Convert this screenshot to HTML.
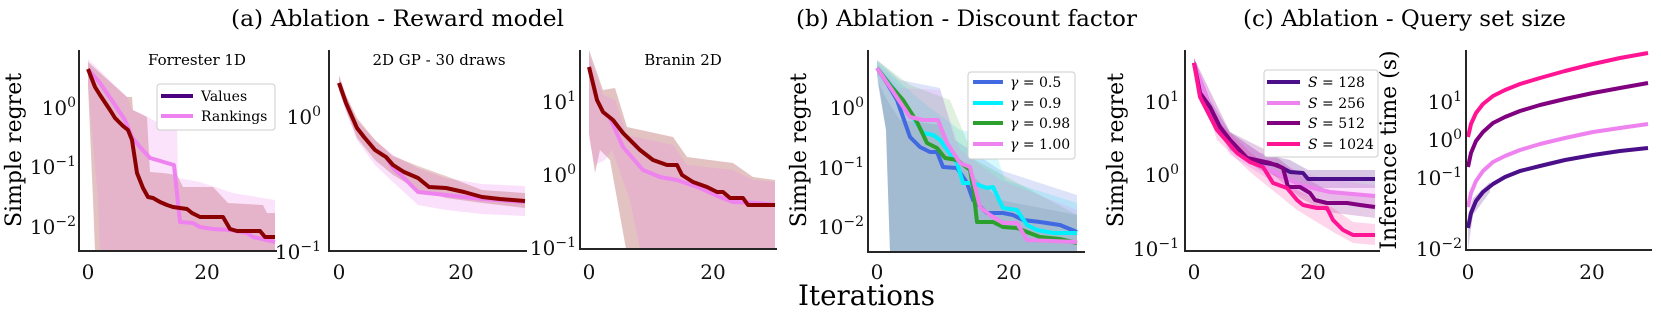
<!DOCTYPE html>
<html><head><meta charset="utf-8"><style>
html,body{margin:0;padding:0;background:#fff;}
svg{display:block;font-family:"DejaVu Serif","Liberation Serif",serif;}
.t{font-size:20px;fill:#111;}
.ax{stroke:#262626;stroke-width:2;fill:none;}
.ln{fill:none;stroke-width:4;stroke-linejoin:round;}
</style></head><body>
<svg width="1661" height="318" viewBox="0 0 1661 318" xmlns="http://www.w3.org/2000/svg">
<text x="231" y="26" font-size="22" textLength="333" lengthAdjust="spacingAndGlyphs">(a) Ablation - Reward model</text>
<text x="796" y="26" font-size="22" textLength="341" lengthAdjust="spacingAndGlyphs">(b) Ablation - Discount factor</text>
<text x="1243" y="26" font-size="22" textLength="323" lengthAdjust="spacingAndGlyphs">(c) Ablation - Query set size</text>
<text x="798" y="305" font-size="28" textLength="137" lengthAdjust="spacingAndGlyphs">Iterations</text>

<!-- Panel 1 -->
<polygon fill="rgba(139,0,0,0.24)" points="88,62 127,97 132,97 133,110 147,117 150,172 163,173 177,175 183,187 213,187 228,203 263,205 267,213 275,213 275,251 95,251 93,200 88,85"/>
<polygon fill="rgba(238,130,238,0.22)" points="88,59 127,97 132,110 140,113 157,122 177,123 178,178 200,182 233,193 275,200 275,251 100,251 98,200 88,85"/>
<polyline class="ln" stroke="#ee82ee" points="88,69 100,83 113,102 125,120 132,137 140,147 150,158 157,160 167,163 174,165 180,222 193,223 200,227 213,229 230,230 247,233 253,237 275,242"/>
<polyline class="ln" stroke="#8b0000" points="88,69 95,87 100,95 110,110 115,118 123,126 128,130 132,140 137,173 143,188 148,197 153,198 160,202 167,205 173,207 180,208 187,209 192,213 200,217 223,217 230,229 237,231 260,231 265,237 275,237"/>
<polyline class="ax" points="79,50 79,251 277,251"/>
<text x="197" y="65" font-size="15" text-anchor="middle">Forrester 1D</text>
<rect x="157" y="84" width="118" height="46" rx="3" fill="#fff" stroke="#ccc" stroke-width="1"/>
<line x1="161" y1="96" x2="193" y2="96" stroke="#4b0082" stroke-width="4"/>
<text x="201" y="101" font-size="14">Values</text>
<line x1="161" y1="116" x2="193" y2="116" stroke="#ee82ee" stroke-width="4"/>
<text x="201" y="121" font-size="14">Rankings</text>
<text class="t" x="76" y="115" text-anchor="end">10<tspan dy="-8" font-size="14">0</tspan></text>
<text class="t" x="76" y="174" text-anchor="end">10<tspan dy="-8" font-size="14">−1</tspan></text>
<text class="t" x="76" y="234" text-anchor="end">10<tspan dy="-8" font-size="14">−2</tspan></text>
<text class="t" x="88" y="279" text-anchor="middle">0</text>
<text class="t" x="207" y="279" text-anchor="middle">20</text>
<text x="21" y="150" font-size="22" text-anchor="middle" transform="rotate(-90 21 150)">Simple regret</text>

<!-- Panel 2 -->
<polygon fill="rgba(238,130,238,0.25)" points="339,76 346,96 357,120 375,140 393,155 418,168 446,178 482,184 525,186 525,216 482,214 446,210 418,205 393,182 375,165 357,140 346,112 339,90"/>
<polygon fill="rgba(139,0,0,0.2)" points="339,75 346,95 357,118 375,140 393,156 418,166 446,176 482,190 525,193 525,208 482,203 446,198 418,190 393,175 375,160 357,138 346,110 339,90"/>
<polyline class="ln" stroke="#ee82ee" points="339,83 346,103 357,128 364,137 375,150 386,157 393,168 404,178 418,192 446,195 482,199 525,202"/>
<polyline class="ln" stroke="#8b0000" points="339,83 346,103 357,128 364,137 375,150 386,157 393,165 404,172 418,178 429,187 446,188 464,192 482,197 500,199 525,201"/>
<polyline class="ax" points="329,50 329,251 527,251"/>
<text x="439" y="65" font-size="15" text-anchor="middle">2D GP - 30 draws</text>
<text class="t" x="321" y="124" text-anchor="end">10<tspan dy="-8" font-size="14">0</tspan></text>
<text class="t" x="321" y="259" text-anchor="end">10<tspan dy="-8" font-size="14">−1</tspan></text>
<text class="t" x="339" y="279" text-anchor="middle">0</text>
<text class="t" x="461" y="279" text-anchor="middle">20</text>

<!-- Panel 3 -->
<polygon fill="rgba(139,0,0,0.24)" points="589,50 603,90 615,88 627,127 673,137 687,157 733,163 753,177 775,180 775,249 626,249 610,160 600,150 595,173 589,133"/>
<polygon fill="rgba(238,130,238,0.22)" points="589,55 603,95 615,100 627,135 673,145 687,165 733,170 753,180 775,182 775,249 640,249 630,200 612,150 605,160 595,165 589,140"/>
<polyline class="ln" stroke="#ee82ee" points="589,67 597,100 603,112 610,118 623,147 643,170 660,177 677,180 700,188 720,197 733,202 758,203 775,205"/>
<polyline class="ln" stroke="#8b0000" points="589,67 597,100 603,112 613,120 623,133 640,150 653,160 667,165 677,165 682,175 693,182 707,187 717,192 723,192 730,198 743,198 748,205 775,205"/>
<polyline class="ax" points="580,50 580,249 777,249"/>
<text x="683" y="65" font-size="15" text-anchor="middle">Branin 2D</text>
<text class="t" x="576" y="109" text-anchor="end">10<tspan dy="-8" font-size="14">1</tspan></text>
<text class="t" x="576" y="182" text-anchor="end">10<tspan dy="-8" font-size="14">0</tspan></text>
<text class="t" x="576" y="255" text-anchor="end">10<tspan dy="-8" font-size="14">−1</tspan></text>
<text class="t" x="589" y="279" text-anchor="middle">0</text>
<text class="t" x="713" y="279" text-anchor="middle">20</text>

<!-- Panel 4 -->
<polygon fill="rgba(65,105,225,0.18)" points="877,60 900,80 940,88 955,140 1000,170 1077,195 1077,252 890,252 886,130 877,75"/>
<polygon fill="rgba(0,220,240,0.16)" points="877,62 920,100 960,130 990,135 1005,180 1077,203 1077,252 890,252 886,130 877,75"/>
<polygon fill="rgba(44,160,44,0.15)" points="877,60 910,85 950,100 975,160 1077,215 1077,252 890,252 886,130 877,75"/>
<polygon fill="rgba(238,130,238,0.18)" points="877,65 900,88 940,90 960,150 1000,180 1077,210 1077,252 890,252 886,130 877,75"/>
<polygon fill="rgba(60,100,120,0.12)" points="877,80 887,100 900,120 940,125 960,165 1000,200 1077,215 1077,252 890,252 886,130"/>
<polyline class="ln" stroke="#4169e1" points="877,68 887,83 897,100 903,117 910,137 920,147 930,152 937,152 943,167 957,168 967,183 973,200 987,213 1003,213 1013,215 1023,220 1040,222 1060,225 1077,232"/>
<polyline class="ln" stroke="#00f0ff" points="877,68 897,93 913,117 923,133 933,135 940,140 957,163 963,183 973,183 987,188 993,187 1003,208 1017,210 1027,225 1037,230 1053,233 1077,233"/>
<polyline class="ln" stroke="#2ca02c" points="877,68 890,85 903,100 917,122 927,143 937,148 945,158 957,160 970,170 973,187 977,222 993,222 1003,227 1017,228 1027,232 1040,237 1060,239 1077,243"/>
<polyline class="ln" stroke="#ee82ee" points="877,68 890,87 910,117 923,120 938,120 947,143 960,163 970,167 980,207 990,215 1003,223 1017,223 1027,240 1077,242"/>
<polyline class="ax" points="868,50 868,252 1085,252"/>
<rect x="968" y="72" width="107" height="87" rx="3" fill="#fff" stroke="#ccc" stroke-width="1"/>
<line x1="973" y1="82" x2="1003" y2="82" stroke="#4169e1" stroke-width="4"/>
<text x="1010" y="87" font-size="14"><tspan font-style="italic">γ</tspan> = 0.5</text>
<line x1="973" y1="103" x2="1003" y2="103" stroke="#00f0ff" stroke-width="4"/>
<text x="1010" y="108" font-size="14"><tspan font-style="italic">γ</tspan> = 0.9</text>
<line x1="973" y1="123" x2="1003" y2="123" stroke="#2ca02c" stroke-width="4"/>
<text x="1010" y="128" font-size="14"><tspan font-style="italic">γ</tspan> = 0.98</text>
<line x1="973" y1="144" x2="1003" y2="144" stroke="#ee82ee" stroke-width="4"/>
<text x="1010" y="149" font-size="14"><tspan font-style="italic">γ</tspan> = 1.00</text>
<text class="t" x="864" y="115" text-anchor="end">10<tspan dy="-8" font-size="14">0</tspan></text>
<text class="t" x="864" y="175" text-anchor="end">10<tspan dy="-8" font-size="14">−1</tspan></text>
<text class="t" x="864" y="234" text-anchor="end">10<tspan dy="-8" font-size="14">−2</tspan></text>
<text class="t" x="877" y="279" text-anchor="middle">0</text>
<text class="t" x="1009" y="279" text-anchor="middle">20</text>
<text x="806" y="150" font-size="22" text-anchor="middle" transform="rotate(-90 806 150)">Simple regret</text>

<!-- Panel 5 -->
<polygon fill="rgba(75,0,130,0.22)" points="1194,58 1210,100 1230,132 1260,153 1290,160 1308,170 1375,170 1375,188 1308,188 1290,182 1260,170 1230,150 1210,115 1194,68"/>
<polygon fill="rgba(128,0,128,0.2)" points="1194,58 1230,132 1270,152 1300,175 1327,190 1375,195 1375,218 1327,212 1300,198 1270,172 1230,150 1194,68"/>
<polygon fill="rgba(238,130,238,0.25)" points="1194,58 1230,135 1270,158 1300,172 1330,180 1375,185 1375,210 1330,200 1300,195 1270,180 1230,155 1194,68"/>
<polygon fill="rgba(255,20,147,0.18)" points="1194,58 1217,120 1250,152 1297,190 1333,208 1353,222 1375,224 1375,245 1353,243 1333,232 1297,210 1250,172 1217,140 1194,68"/>
<polyline class="ln" stroke="#ee82ee" points="1194,63 1217,128 1247,158 1270,170 1300,185 1330,192 1375,196"/>
<polyline class="ln" stroke="#4b0f8a" points="1194,63 1200,93 1210,107 1220,127 1230,140 1247,158 1260,162 1277,165 1290,172 1303,173 1308,179 1375,179"/>
<polyline class="ln" stroke="#800080" points="1194,63 1200,93 1210,107 1220,127 1230,140 1247,158 1270,163 1283,168 1288,187 1300,187 1310,193 1315,200 1327,203 1347,203 1360,205 1375,207"/>
<polyline class="ln" stroke="#ff1493" points="1194,63 1200,97 1217,130 1237,153 1250,162 1263,167 1273,183 1287,188 1297,200 1303,205 1317,208 1327,208 1333,220 1343,230 1353,235 1375,235"/>
<polyline class="ax" points="1185,50 1185,251 1380,251"/>
<rect x="1264" y="70" width="114" height="87" rx="3" fill="#fff" stroke="#ccc" stroke-width="1"/>
<line x1="1267" y1="82" x2="1300" y2="82" stroke="#4b0f8a" stroke-width="4"/>
<text x="1308" y="87" font-size="14"><tspan font-style="italic">S</tspan> = 128</text>
<line x1="1267" y1="103" x2="1300" y2="103" stroke="#ee82ee" stroke-width="4"/>
<text x="1308" y="108" font-size="14"><tspan font-style="italic">S</tspan> = 256</text>
<line x1="1267" y1="123" x2="1300" y2="123" stroke="#800080" stroke-width="4"/>
<text x="1308" y="128" font-size="14"><tspan font-style="italic">S</tspan> = 512</text>
<line x1="1267" y1="144" x2="1300" y2="144" stroke="#ff1493" stroke-width="4"/>
<text x="1308" y="149" font-size="14"><tspan font-style="italic">S</tspan> = 1024</text>
<text class="t" x="1179" y="109" text-anchor="end">10<tspan dy="-8" font-size="14">1</tspan></text>
<text class="t" x="1179" y="182" text-anchor="end">10<tspan dy="-8" font-size="14">0</tspan></text>
<text class="t" x="1179" y="256" text-anchor="end">10<tspan dy="-8" font-size="14">−1</tspan></text>
<text class="t" x="1194" y="279" text-anchor="middle">0</text>
<text class="t" x="1313" y="279" text-anchor="middle">20</text>
<text x="1123" y="150" font-size="22" text-anchor="middle" transform="rotate(-90 1123 150)">Simple regret</text>

<!-- Panel 6 -->
<polygon fill="rgba(75,0,130,0.2)" points="1468,215 1473,198 1490,182 1490,192 1473,215 1468,250"/>
<polyline class="ln" stroke="#ff1493" points="1468,137 1471,124 1476,113 1483,104 1493,96 1505,90 1520,84 1540,78 1565,71 1593,64 1620,58 1648,53"/>
<polyline class="ln" stroke="#800080" points="1468,167 1471,153 1476,141 1483,132 1493,123 1505,117 1520,111 1540,105 1565,99 1593,93 1620,88 1648,83"/>
<polyline class="ln" stroke="#ee82ee" points="1468,207 1471,193 1476,181 1483,171 1493,162 1505,156 1520,150 1540,144 1565,138 1593,132 1620,128 1648,124"/>
<polyline class="ln" stroke="#4b0f8a" points="1468,228 1471,213 1476,201 1483,192 1493,184 1505,177 1520,171 1540,166 1565,160 1593,155 1620,151 1648,148"/>
<polyline class="ax" points="1466,50 1466,250 1652,250"/>
<text class="t" x="1462" y="109" text-anchor="end">10<tspan dy="-8" font-size="14">1</tspan></text>
<text class="t" x="1462" y="147" text-anchor="end">10<tspan dy="-8" font-size="14">0</tspan></text>
<text class="t" x="1462" y="185" text-anchor="end">10<tspan dy="-8" font-size="14">−1</tspan></text>
<text class="t" x="1462" y="256" text-anchor="end">10<tspan dy="-8" font-size="14">−2</tspan></text>
<text class="t" x="1468" y="279" text-anchor="middle">0</text>
<text class="t" x="1592" y="279" text-anchor="middle">20</text>
<text x="1396" y="150" font-size="22" text-anchor="middle" transform="rotate(-90 1396 150)">Inference time (s)</text>
</svg>
</body></html>
